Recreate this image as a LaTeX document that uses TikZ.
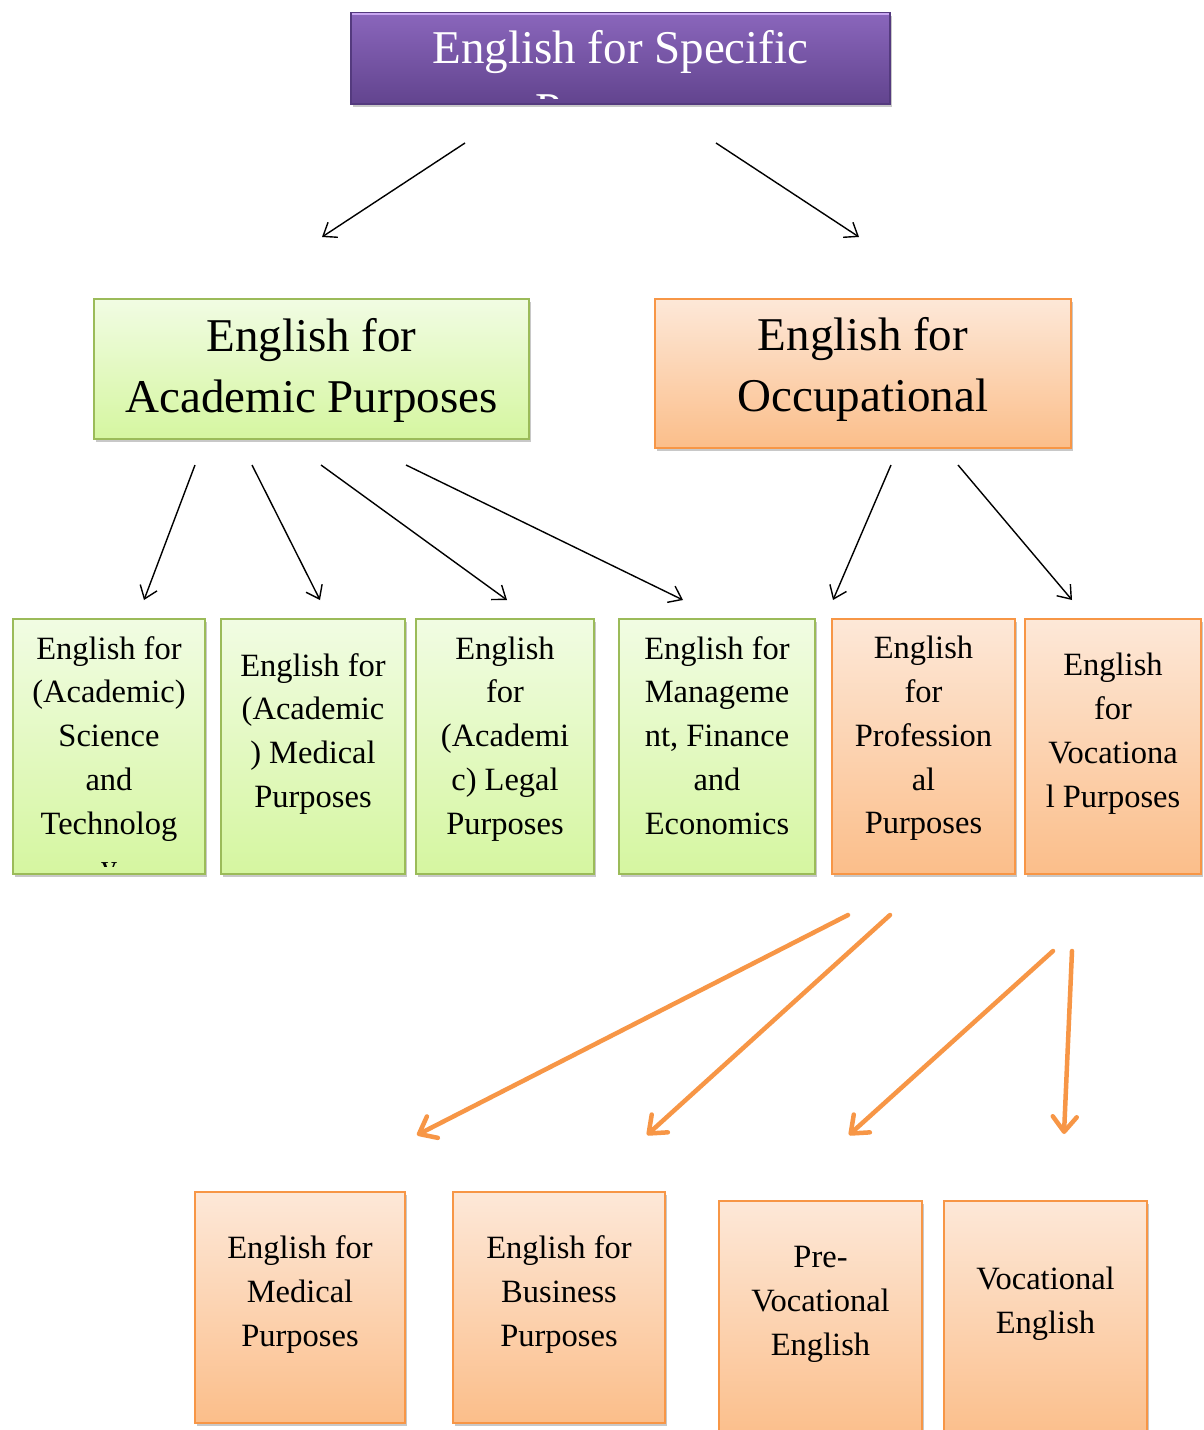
\documentclass[tikz,border=0pt]{standalone}
\usepackage{fontspec}
\setmainfont{Liberation Serif}
\usetikzlibrary{arrows.meta,shadows,calc}

\definecolor{grnline}{HTML}{9BBB59}
\definecolor{grntop}{HTML}{F1FCE3}
\definecolor{grnbot}{HTML}{D5F6A0}
\definecolor{orgline}{HTML}{F79646}
\definecolor{orgtop}{HTML}{FDE8D8}
\definecolor{orgbot}{HTML}{FBBE8A}
\definecolor{purtop}{HTML}{8A66BC}
\definecolor{purbot}{HTML}{62448E}
\definecolor{purline}{HTML}{543A7E}
\definecolor{purhigh}{HTML}{C9A7F1}

% fixed-size struts so that every text block starts at the same baseline offset
\newcommand{\bigstrut}{\rule[-18.3pt]{0pt}{61pt}}
\newcommand{\titlestrut}{\rule[-18.6pt]{0pt}{62pt}}
\newcommand{\smallstrut}{\rule[-13.1pt]{0pt}{43.7pt}}

\tikzset{
  boxbase/.style={rectangle, inner sep=0pt,
    drop shadow={shadow xshift=1.5pt, shadow yshift=-3pt, opacity=0.3, fill=black!70}},
  greenbox/.style={boxbase, draw=grnline, line width=2pt, top color=grntop, bottom color=grnbot},
  orangebox/.style={boxbase, draw=orgline, line width=2.5pt, top color=orgtop, bottom color=orgbot},
  purplebox/.style={boxbase, draw=purline, line width=1.5pt, top color=purtop, bottom color=purbot},
  bigtext/.style={inner sep=0pt, anchor=north, align=center,
    font=\fontsize{47}{61}\selectfont},
  titletext/.style={inner sep=0pt, anchor=north, align=center, text=white,
    font=\fontsize{47}{62}\selectfont},
  smalltext/.style={inner sep=0pt, anchor=north, align=center,
    font=\fontsize{32.5}{43.7}\selectfont},
  blackarrow/.style={draw=black, line width=1.4pt, -{Straight Barb[length=12pt,width=18pt]}},
  orangearrow/.style={draw=orgline, line width=4.5pt, line cap=round,
    -{Straight Barb[length=15pt,width=24pt,round]}},
}

\begin{document}
\begin{tikzpicture}[x=1pt, y=-1pt]
  \fill[white] (0,0) rectangle (1203,1430);
  \useasboundingbox (0,0) rectangle (1203,1430);

  % ---- level 1 ----
  \node[purplebox, minimum width=539pt, minimum height=91pt] (top) at (620.5,58.5) {};
  \draw[purhigh, line width=2pt] ($(top.north west)+(1.5,1.5)$) -- ($(top.north east)+(-1.5,1.5)$);
  \begin{scope}
    \clip ($(top.north west)+(2,2)$) rectangle ($(top.south east)+(-2,-6)$);
    \node[titletext] (toptext) at ($(top.north)+(0,7.6)$)
      {\titlestrut English for Specific\\Purposes\titlestrut};
  \end{scope}

  % ---- level 2 ----
  \node[greenbox, minimum width=435pt, minimum height=140pt] (eap) at (311.5,369) {};
  \node[bigtext] (eaptext) at ($(eap.north)+(0,10.3)$)
    {\bigstrut English for\\Academic Purposes\bigstrut};
  \node[orangebox, minimum width=416pt, minimum height=149pt] (eop) at (863,373.5) {};
  \node[bigtext] (eoptext) at ($(eop.north)+(0,10.3)$)
    {\bigstrut English for\\Occupational\bigstrut};

  % ---- level 3 ----
  \node[greenbox, minimum width=192pt, minimum height=255pt] (b1) at (109,746.5) {};
  \node[greenbox, minimum width=184pt, minimum height=255pt] (b2) at (313,746.5) {};
  \node[greenbox, minimum width=178pt, minimum height=255pt] (b3) at (505,746.5) {};
  \node[greenbox, minimum width=196pt, minimum height=255pt] (b4) at (717,746.5) {};
  \node[orangebox, minimum width=183pt, minimum height=255pt] (b5) at (923.5,746.5) {};
  \node[orangebox, minimum width=176pt, minimum height=255pt] (b6) at (1113,746.5) {};

  \begin{scope}
    \clip (b1.north west) rectangle ($(b1.south east)+(0,-9)$);
    \node[smalltext] (t1) at ($(b1.north)+(0,10.4)$)
      {\smallstrut English for\\(Academic)\\Science\\and\\Technolog\\y\smallstrut};
  \end{scope}
  \node[smalltext] (t2) at ($(b2.north)+(0,27.4)$)
    {\smallstrut English for\\(Academic\\) Medical\\Purposes\smallstrut};
  \node[smalltext] (t3) at ($(b3.north)+(0,10.4)$)
    {\smallstrut English\\for\\(Academi\\c) Legal\\Purposes\smallstrut};
  \node[smalltext] (t4) at ($(b4.north)+(0,10.4)$)
    {\smallstrut English for\\Manageme\\nt, Finance\\and\\Economics\smallstrut};
  \node[smalltext] (t5) at ($(b5.north)+(0,10.4)$)
    {\smallstrut English\\for\\Profession\\al\\Purposes\smallstrut};
  \node[smalltext] (t6) at ($(b6.north)+(0,27.4)$)
    {\smallstrut English\\for\\Vocationa\\l Purposes\smallstrut};

  % ---- level 4 ----
  \node[orangebox, minimum width=210pt, minimum height=231pt] (c1) at (300,1307.5) {};
  \node[orangebox, minimum width=212pt, minimum height=231pt] (c2) at (559,1307.5) {};
  \node[orangebox, minimum width=203pt, minimum height=239pt] (c3) at (820.5,1320.5) {};
  \node[orangebox, minimum width=203pt, minimum height=239pt] (c4) at (1045.5,1320.5) {};
  \node[smalltext] (u1) at ($(c1.north)+(0,37.4)$)
    {\smallstrut English for\\Medical\\Purposes\smallstrut};
  \node[smalltext] (u2) at ($(c2.north)+(0,37.4)$)
    {\smallstrut English for\\Business\\Purposes\smallstrut};
  \node[smalltext] (u3) at ($(c3.north)+(0,37.4)$)
    {\smallstrut Pre-\\Vocational\\English\smallstrut};
  \node[smalltext] (u4) at ($(c4.north)+(0,59.4)$)
    {\smallstrut Vocational\\English\smallstrut};

  % ---- connector end points ----
  \coordinate (p1s) at (465,143);  \coordinate (p1e) at (322,237);
  \coordinate (p2s) at (716,143);  \coordinate (p2e) at (859,237);
  \coordinate (q1s) at (195,465);  \coordinate (q1e) at (144,600);
  \coordinate (q2s) at (252,465);  \coordinate (q2e) at (320,600);
  \coordinate (q3s) at (321,465);  \coordinate (q3e) at (507,600);
  \coordinate (q4s) at (406,465);  \coordinate (q4e) at (683,600);
  \coordinate (q5s) at (891,465);  \coordinate (q5e) at (833,600);
  \coordinate (q6s) at (958,465);  \coordinate (q6e) at (1072,600);
  \coordinate (r1s) at (848,915);  \coordinate (r1e) at (417,1135);
  \coordinate (r2s) at (890,915);  \coordinate (r2e) at (647,1135);
  \coordinate (r3s) at (1053,951); \coordinate (r3e) at (849,1135);
  \coordinate (r4s) at (1072,951); \coordinate (r4e) at (1064,1134);

  % ---- connectors ----
  \draw[blackarrow] (p1s) -- (p1e);
  \draw[blackarrow] (p2s) -- (p2e);
  \foreach \k in {1,...,6} { \draw[blackarrow] (q\k s) -- (q\k e); }
  \foreach \k in {1,...,4} { \draw[orangearrow] (r\k s) -- (r\k e); }
\end{tikzpicture}
\end{document}
